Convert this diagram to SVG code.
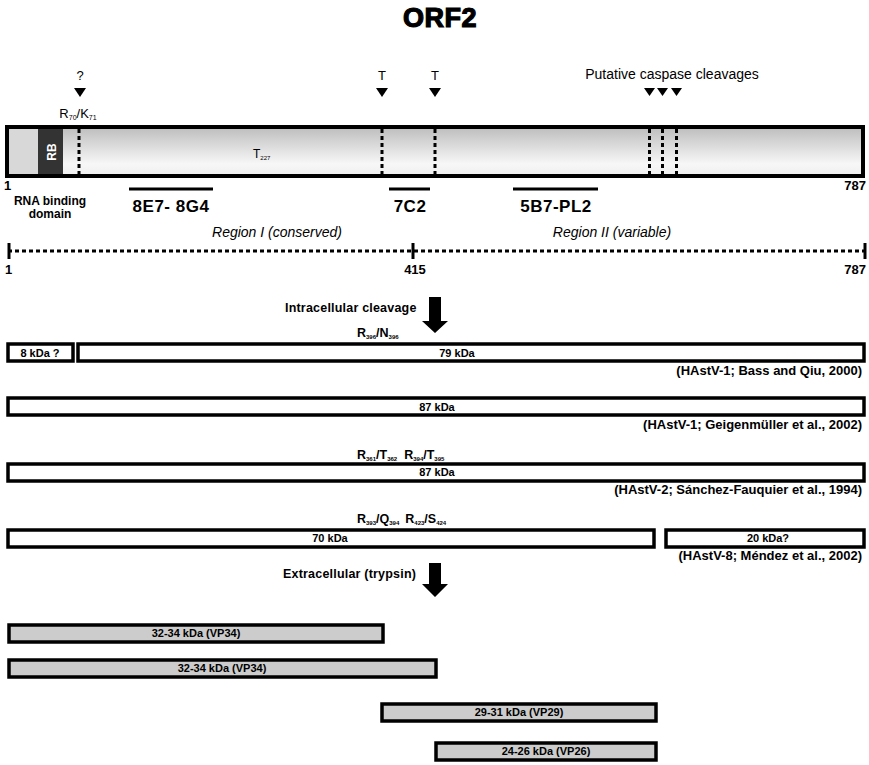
<svg xmlns="http://www.w3.org/2000/svg" width="869" height="765" viewBox="0 0 869 765">
<style>
text{font-family:"Liberation Sans",Arial,sans-serif;fill:#000}
.reg{font-size:13px}
.lab{font-size:11px;font-weight:bold}
.cit{font-size:13px;font-weight:bold;text-anchor:end}
.ep{font-size:17px;font-weight:bold;letter-spacing:0.5px}
.num{font-size:13px;font-weight:bold}
.it{font-size:14px;font-style:italic}
.sub{font-size:6px}
.rl{font-size:12.5px;font-weight:bold}
.box{fill:#fff;stroke:#000;stroke-width:3.5}
.gbox{fill:#cccccc;stroke:#000;stroke-width:3.5}
.dot{stroke:#000;stroke-width:3;stroke-dasharray:4 3;fill:none}
.tri{fill:#000}
.gl{font-size:11px;font-weight:bold;text-anchor:middle}
</style>
<defs>
<linearGradient id="gr" x1="0" y1="0" x2="0" y2="1">
<stop offset="0" stop-color="#bdbdbd"/>
<stop offset="0.75" stop-color="#f7f7f7"/>
<stop offset="1" stop-color="#efefef"/>
</linearGradient>
</defs>
<rect width="869" height="765" fill="#fff"/>

<g id="title"><text x="440" y="27" text-anchor="middle" font-size="27" font-weight="900" stroke="#000" stroke-width="1.2" letter-spacing="0.5">ORF2</text></g>

<g id="cleavage-marks">
<text x="80" y="80" class="reg" text-anchor="middle">?</text>
<polygon class="tri" points="74,88 86,88 80,97"/>
<text x="382" y="80" class="reg" text-anchor="middle">T</text>
<polygon class="tri" points="376,88 388,88 382,97"/>
<text x="435" y="80" class="reg" text-anchor="middle">T</text>
<polygon class="tri" points="429,88 441,88 435,97"/>
<text x="672" y="79" font-size="14" text-anchor="middle">Putative caspase cleavages</text>
<polygon class="tri" points="644,88 655,88 649.5,96"/>
<polygon class="tri" points="657,88 668,88 662.5,96"/>
<polygon class="tri" points="671,88 682,88 676.5,96"/>
<text x="78" y="118" font-size="13" text-anchor="middle">R<tspan font-size="7" dy="2">70</tspan><tspan dy="-2">/K</tspan><tspan font-size="7" dy="2">71</tspan></text>
</g>

<g id="orf2-bar">
<rect x="7" y="127" width="856" height="49" fill="url(#gr)" stroke="none"/>
<rect x="7" y="127" width="31" height="49" fill="#d8d8d8"/>
<rect x="38" y="127" width="25" height="49" fill="#333"/>
<text transform="translate(55.5,152) rotate(-90)" font-size="12" font-weight="bold" text-anchor="middle" style="fill:#fff">RB</text>
<line class="dot" x1="79" y1="129" x2="79" y2="175"/>
<line class="dot" x1="382" y1="129" x2="382" y2="175"/>
<line class="dot" x1="435" y1="129" x2="435" y2="175"/>
<line class="dot" x1="649.5" y1="129" x2="649.5" y2="175"/>
<line class="dot" x1="662.5" y1="129" x2="662.5" y2="175"/>
<line class="dot" x1="676.5" y1="129" x2="676.5" y2="175"/>
<rect x="7" y="127" width="856" height="49" fill="none" stroke="#000" stroke-width="4"/>
<text x="253" y="158" font-size="12">T<tspan class="sub" dy="2">227</tspan></text>
<text x="4" y="190" class="num">1</text>
<text x="866" y="190" class="num" text-anchor="end">787</text>
<text x="50" y="205" font-size="12" font-weight="bold" text-anchor="middle">RNA binding</text>
<text x="50" y="218" font-size="12" font-weight="bold" text-anchor="middle">domain</text>
</g>

<g id="epitopes">
<line x1="129" y1="189" x2="213" y2="189" stroke="#000" stroke-width="3"/>
<text x="171" y="212" class="ep" text-anchor="middle">8E7- 8G4</text>
<line x1="389" y1="189" x2="430" y2="189" stroke="#000" stroke-width="3"/>
<text x="410" y="212" class="ep" text-anchor="middle" letter-spacing="1.5">7C2</text>
<line x1="513" y1="189" x2="598" y2="189" stroke="#000" stroke-width="3"/>
<text x="556" y="212" class="ep" text-anchor="middle">5B7-PL2</text>
</g>

<g id="ruler">
<text x="277" y="237" class="it" text-anchor="middle">Region I (conserved)</text>
<text x="612" y="237" class="it" text-anchor="middle">Region II (variable)</text>
<line class="dot" x1="8" y1="251" x2="865" y2="251" stroke-dasharray="3 2"/>
<line x1="9" y1="243" x2="9" y2="259" stroke="#000" stroke-width="3"/>
<line x1="413" y1="243" x2="413" y2="259" stroke="#000" stroke-width="3"/>
<line x1="865" y1="243" x2="865" y2="259" stroke="#000" stroke-width="3"/>
<text x="5" y="274" class="num">1</text>
<text x="415" y="274" class="num" text-anchor="middle">415</text>
<text x="866" y="274" class="num" text-anchor="end">787</text>
</g>

<g id="connectors">
<polygon points="429,297 441,297 441,321 448,321 435,333 422,321 429,321" fill="#000"/>
<polygon points="429,563 441,563 441,584 448,584 435,597 422,584 429,584" fill="#000"/>
</g>

<g id="step-labels">
<text x="285" y="312" font-size="12.5" font-weight="bold" letter-spacing="0.2">Intracellular cleavage</text>
<text x="283" y="578" font-size="12.5" font-weight="bold" letter-spacing="0.2">Extracellular (trypsin)</text>
</g>

<g id="row1">
<text x="357" y="337" class="rl">R<tspan class="sub" dy="2">396</tspan><tspan dy="-2">/N</tspan><tspan class="sub" dy="2">396</tspan></text>
<rect class="box" x="8" y="344" width="65" height="17"/>
<text x="40" y="357" class="lab" text-anchor="middle">8 kDa ?</text>
<rect class="box" x="78" y="344" width="786" height="17"/>
<text x="457" y="357" class="lab" text-anchor="middle">79 kDa</text>
<text x="862" y="375" class="cit">(HAstV-1; Bass and Qiu, 2000)</text>
</g>

<g id="row2">
<rect class="box" x="8" y="398" width="856" height="17"/>
<text x="437" y="411" class="lab" text-anchor="middle">87 kDa</text>
<text x="862" y="429" class="cit">(HAstV-1; Geigenmüller et al., 2002)</text>
</g>

<g id="row3">
<text x="357" y="459" class="rl">R<tspan class="sub" dy="2">361</tspan><tspan dy="-2">/T</tspan><tspan class="sub" dy="2">362</tspan><tspan dx="7" dy="-2">R</tspan><tspan class="sub" dy="2">394</tspan><tspan dy="-2">/T</tspan><tspan class="sub" dy="2">395</tspan></text>
<rect class="box" x="8" y="464" width="856" height="17"/>
<text x="437" y="476" class="lab" text-anchor="middle">87 kDa</text>
<text x="862" y="494" class="cit">(HAstV-2; Sánchez-Fauquier et al., 1994)</text>
</g>

<g id="row4">
<text x="357" y="523" class="rl">R<tspan class="sub" dy="2">393</tspan><tspan dy="-2">/Q</tspan><tspan class="sub" dy="2">394</tspan><tspan dx="6" dy="-2">R</tspan><tspan class="sub" dy="2">423</tspan><tspan dy="-2">/S</tspan><tspan class="sub" dy="2">424</tspan></text>
<rect class="box" x="8" y="530" width="646" height="17"/>
<text x="330" y="542" class="lab" text-anchor="middle">70 kDa</text>
<rect class="box" x="666" y="530" width="198" height="17"/>
<text x="768" y="542" class="lab" text-anchor="middle">20 kDa?</text>
<text x="862" y="560" class="cit">(HAstV-8; Méndez et al., 2002)</text>
</g>

<g id="vp34a">
<rect class="gbox" x="9" y="625" width="374" height="17"/>
<text x="196" y="637" class="gl">32-34 kDa (VP34)</text>
</g>
<g id="vp34b">
<rect class="gbox" x="9" y="660" width="427" height="17"/>
<text x="222" y="672" class="gl">32-34 kDa (VP34)</text>
</g>
<g id="vp29">
<rect class="gbox" x="382" y="704" width="274" height="17"/>
<text x="519" y="716" class="gl">29-31 kDa (VP29)</text>
</g>
<g id="vp26">
<rect class="gbox" x="436" y="743" width="220" height="17"/>
<text x="546" y="755" class="gl">24-26 kDa (VP26)</text>
</g>
</svg>
